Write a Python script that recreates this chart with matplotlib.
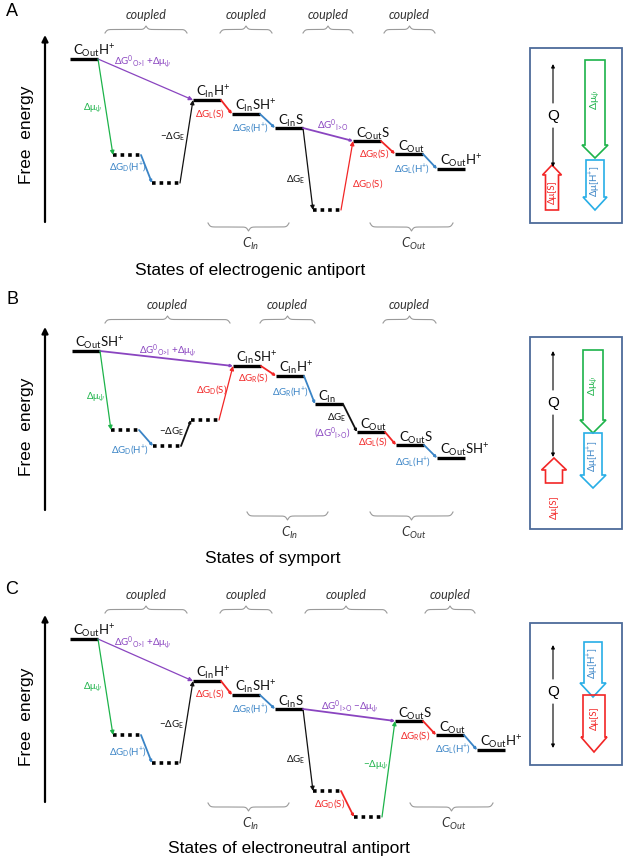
"""
Free-energy state diagrams for electrogenic antiport, symport and electroneutral antiport.
Output: out.png (624x860)
"""
import numpy as np
import matplotlib
matplotlib.use("Agg")
import matplotlib.pyplot as plt
from matplotlib.patches import Polygon, Rectangle

plt.rcParams["font.family"] = ["Lato", "DejaVu Sans"]
plt.rcParams["mathtext.fontset"] = "custom"
plt.rcParams["mathtext.rm"] = "Lato"
plt.rcParams["mathtext.it"] = "Lato:italic"
plt.rcParams["mathtext.bf"] = "Lato:bold"

PURPLE = "#8a45c0"
GREEN = "#1db34a"
BLUE = "#3a84c6"
RED = "#f22626"
CYAN = "#28aee6"
GREY = "#9a9a9a"
BOXC = "#4d6b9a"
K = "#111111"

# ── Labels ────────────────────────────────────────────────────────────────────
def cname(sub, tail=""):
    return r"C$_{\mathrm{%s}}$%s" % (sub, tail)

HP = r"H$^{+}$"
C_OUT_H = cname("Out", HP)
C_OUT_SH = cname("Out", "S" + HP)
C_OUT_S = cname("Out", "S")
C_OUT = cname("Out")
C_IN_H = cname("In", HP)
C_IN_SH = cname("In", "S" + HP)
C_IN_S = cname("In", "S")
C_IN = cname("In")

OI = r"\mathrm{O}\!>\!\mathrm{I}"
IO = r"\mathrm{I}\!>\!\mathrm{O}"
dGL_S = r"ΔG$_{\mathrm{L}}$(S)"
dGR_S = r"ΔG$_{\mathrm{R}}$(S)"
dGD_S = r"ΔG$_{\mathrm{D}}$(S)"
dGL_H = r"ΔG$_{\mathrm{L}}$(H$^{+}$)"
dGR_H = r"ΔG$_{\mathrm{R}}$(H$^{+}$)"
dGD_H = r"ΔG$_{\mathrm{D}}$(H$^{+}$)"
dGE = r"ΔG$_{\mathrm{E}}$"
m_dGE = r"−ΔG$_{\mathrm{E}}$"
dmu = r"Δμ$_{\psi}$"
m_dmu = r"−Δμ$_{\psi}$"
dG0_OI = r"ΔG$^{0}$$_{%s}$ +Δμ$_{\psi}$" % OI
dG0_IO = r"ΔG$^{0}$$_{%s}$" % IO
dG0_IO_p = r"(ΔG$^{0}$$_{%s}$)" % IO
dG0_IO_m = r"ΔG$^{0}$$_{%s}$ −Δμ$_{\psi}$" % IO

# ── Panel A: electrogenic antiport ────────────────────────────────────────────
A_names = [C_OUT_H, "", "", C_IN_H, C_IN_SH, C_IN_S, "", C_OUT_S, C_OUT, C_OUT_H]
A_level = [59, 155, 183, 100, 114, 128, 210, 141, 154, 169]
A_pos = [70, 113, 152, 193, 232, 275, 313, 353, 395, 437]
A_dotted = [0, 1, 1, 0, 0, 0, 1, 0, 0, 0]
A_steps = [(0, 3, PURPLE), (0, 1, GREEN), (1, 2, BLUE), (2, 3, K), (3, 4, RED),
           (4, 5, BLUE), (5, 6, K), (6, 7, RED), (5, 7, PURPLE), (7, 8, RED), (8, 9, BLUE)]
A_step_text = [dG0_OI, dmu, dGD_H, m_dGE, dGL_S, dGR_H, dGE, dGD_S, dG0_IO, dGR_S, dGL_H]
A_step_color = [PURPLE, GREEN, BLUE, K, RED, BLUE, K, RED, PURPLE, RED, BLUE]
A_step_xy = [(143, 62), (92, 108), (128, 167), (173, 137), (210, 113), (250, 128),
             (296, 180), (368, 184), (333, 126), (374, 154), (412, 169)]

# ── Panel B: symport ──────────────────────────────────────────────────────────
B_names = [C_OUT_SH, "", "", "", C_IN_SH, C_IN_H, C_IN, C_OUT, C_OUT_S, C_OUT_SH]
B_level = [351, 430, 446, 420, 366, 376, 404, 432, 445, 458]
B_pos = [72, 111, 153, 191, 233, 276, 315, 357, 396, 437]
B_dotted = [0, 1, 1, 1, 0, 0, 0, 0, 0, 0]
B_steps = [(0, 4, PURPLE), (0, 1, GREEN), (1, 2, BLUE), (2, 3, K), (3, 4, RED),
           (4, 5, RED), (5, 6, BLUE), (6, 7, K), (7, 8, RED), (8, 9, BLUE)]
B_step_text = [dG0_OI, dmu, dGD_H, m_dGE, dGD_S, dGR_S, dGR_H, dGE, dG0_IO_p, dGL_S, dGL_H]
B_step_color = [PURPLE, GREEN, BLUE, K, RED, RED, BLUE, K, PURPLE, RED, BLUE]
B_step_xy = [(168, 351), (95, 397), (130, 450), (172, 432), (212, 389), (253, 377),
             (290, 392), (337, 418), (332, 433), (373, 442), (413, 462)]

# ── Panel C: electroneutral antiport ──────────────────────────────────────────
C_names = [C_OUT_H, "", "", C_IN_H, C_IN_SH, C_IN_S, "", "", C_OUT_S, C_OUT, C_OUT_H]
C_level = [639, 735, 763, 681, 695, 709, 791, 817, 721, 735, 750]
C_pos = [70, 113, 152, 193, 232, 275, 313, 354, 395, 436, 477]
C_dotted = [0, 1, 1, 0, 0, 0, 1, 1, 0, 0, 0]
C_steps = [(0, 3, PURPLE), (0, 1, GREEN), (1, 2, BLUE), (2, 3, K), (3, 4, RED),
           (4, 5, BLUE), (5, 6, K), (6, 7, RED), (7, 8, GREEN), (5, 8, PURPLE),
           (8, 9, RED), (9, 10, BLUE)]
C_step_text = [dG0_OI, dmu, dGD_H, m_dGE, dGL_S, dGR_H, dGE, dGD_S, m_dmu, dG0_IO_m, dGR_S, dGL_H]
C_step_color = [PURPLE, GREEN, BLUE, K, RED, BLUE, K, RED, GREEN, PURPLE, RED, BLUE]
C_step_xy = [(143, 643), (92, 687), (128, 752), (172, 725), (210, 693), (250, 709),
             (296, 760), (330, 803), (375, 765), (350, 707), (415, 735), (453, 749)]

# braces: (x0, x1)
A_coupled = [(105, 187), (220, 272), (303, 353), (384, 435)]
B_coupled = [(105, 230), (260, 315), (383, 436)]
C_coupled = [(105, 187), (220, 272), (305, 387), (425, 475)]
A_carrier = [(208, 289, "In"), (370, 453, "Out")]
B_carrier = [(247, 328, "In"), (370, 453, "Out")]
C_carrier = [(208, 289, "In"), (410, 493, "Out")]

titles = ["States of electrogenic antiport", "States of symport",
          "States of electroneutral antiport"]

LW = 28  # level width in px

fig = plt.figure(figsize=(6.24, 8.6), dpi=100)
ax = fig.add_axes([0, 0, 1, 1])
ax.set_xlim(0, 624)
ax.set_ylim(860, 0)
ax.axis("off")


def arrow(p0, p1, color, lw=0.9, ms=6, head=True):
    ax.annotate("", xy=p1, xytext=p0,
                arrowprops=dict(arrowstyle="-|>" if head else "-", color=color, lw=lw,
                                mutation_scale=ms, shrinkA=0, shrinkB=0))


def brace(x0, x1, y, h, up=True):
    n = 301
    xs = np.linspace(x0, x1, n)
    half = xs[: n // 2 + 1]
    beta = 0.9
    v = 1 / (1 + np.exp(-beta * (half - half[0]))) + 1 / (1 + np.exp(-beta * (half - half[-1])))
    v = np.concatenate([v, v[-2::-1]]) - 0.5
    sign = -1 if up else 1
    ax.plot(xs, y + sign * v * h, color=GREY, lw=0.8)


def block_arrow(xc, y0, y1, sw, hw, hl, color):
    d = 1 if y1 > y0 else -1
    yb = y1 - d * hl
    pts = [(xc - sw / 2, y0), (xc + sw / 2, y0), (xc + sw / 2, yb), (xc + hw / 2, yb),
           (xc, y1), (xc - hw / 2, yb), (xc - sw / 2, yb)]
    ax.add_patch(Polygon(pts, closed=True, fill=False, ec=color, lw=1.2, joinstyle="miter"))


def panel(names, level, pos, dotted, steps, s_text, s_color, s_xy):
    for i, j, col in steps:
        p0 = (pos[i] + LW, level[i])
        p1 = (pos[j], level[j])
        long_step = abs(level[j] - level[i]) > 40
        arrow(p0, p1, col, lw=0.9 if long_step else 1.3, ms=6 if long_step else 3)
    for nm, y, x, dot in zip(names, level, pos, dotted):
        if dot:
            ax.plot([x, x + LW], [y, y], color="k", lw=2.6, ls=(0, (1, 1.1)),
                    solid_capstyle="butt", dash_capstyle="butt")
        else:
            ax.plot([x, x + LW], [y, y], color="k", lw=2.4, solid_capstyle="butt")
        if nm:
            ax.text(x + 3, y - 3.5, nm, fontsize=9.5, ha="left", va="baseline", color=K)
    for t, c, (x, y) in zip(s_text, s_color, s_xy):
        ax.text(x, y, t, fontsize=7, ha="center", va="center", color=c)


def braces(coupled, carrier, y_top, y_bot):
    for x0, x1 in coupled:
        brace(x0, x1, y_top, 7, up=True)
        ax.text((x0 + x1) / 2, y_top - 18, "coupled", fontsize=9, style="italic",
                ha="center", va="center", color="#333333")
    for x0, x1, sub in carrier:
        brace(x0, x1, y_bot, 8, up=False)
        ax.text((x0 + x1) / 2 + 2, y_bot + 21, r"$C_{%s}$" % sub, fontsize=9.5,
                ha="center", va="center", color="#333333")


def free_energy_axis(y_bot, y_top, y_text):
    ax.annotate("", xy=(45, y_top), xytext=(45, y_bot),
                arrowprops=dict(arrowstyle="-|>", color="k", lw=1.6, mutation_scale=9,
                                shrinkA=0, shrinkB=0))
    ax.text(27, y_text, "Free  energy", rotation=90, fontsize=12.5, ha="center", va="center",
            family="Liberation Sans")


def q_line(y_top, y_bot, y_q):
    arrow((553, y_q - 13), (553, y_top), "k", lw=0.8, ms=5)
    arrow((553, y_q + 12), (553, y_bot), "k", lw=0.8, ms=5)
    ax.text(553, y_q, "Q", fontsize=11, ha="center", va="center", family="Liberation Sans")


def box(y0, y1):
    ax.add_patch(Rectangle((530, y0), 92, y1 - y0, fill=False, ec=BOXC, lw=1.3))


# ── Draw panels ───────────────────────────────────────────────────────────────
panel(A_names, A_level, A_pos, A_dotted, A_steps, A_step_text, A_step_color, A_step_xy)
panel(B_names, B_level, B_pos, B_dotted, B_steps, B_step_text, B_step_color, B_step_xy)
panel(C_names, C_level, C_pos, C_dotted, C_steps, C_step_text, C_step_color, C_step_xy)

braces(A_coupled, A_carrier, 33, 223)
braces(B_coupled, B_carrier, 323, 512)
braces(C_coupled, C_carrier, 613, 803)

free_energy_axis(222, 35, 135)
free_energy_axis(510, 327, 427)
free_energy_axis(802, 615, 717)

for t, (x, y) in zip(titles, [(250, 270), (273, 558), (289, 848)]):
    ax.text(x, y, t, fontsize=12.5, ha="center", va="center", family="Liberation Sans")

for t, y in zip("ABC", [12, 300, 590]):
    ax.text(12, y, t, fontsize=13, ha="center", va="center", family="Liberation Sans")

# ── Driving-force insets ──────────────────────────────────────────────────────
box(48, 223)
q_line(64, 167, 116)
block_arrow(595, 60, 158, 20, 26, 13, GREEN)
ax.text(595, 100, dmu, rotation=90, fontsize=7.5, color=GREEN, ha="center", va="center")
block_arrow(595, 160, 210, 18, 24, 13, CYAN)
ax.text(595, 181, r"Δμ[H$^{+}$]", rotation=90, fontsize=7, color=BLUE, ha="center", va="center")
block_arrow(552, 210, 165, 13, 19, 10, RED)
ax.text(552, 192, "Δμ[S]", rotation=90, fontsize=7, color=RED, ha="center", va="center")

box(337, 529)
q_line(351, 457, 403)
block_arrow(593, 350, 433, 20, 26, 13, GREEN)
ax.text(593, 386, dmu, rotation=90, fontsize=7.5, color=GREEN, ha="center", va="center")
block_arrow(593, 433, 488, 18, 26, 13, CYAN)
ax.text(593, 456, r"Δμ[H$^{+}$]", rotation=90, fontsize=7, color=BLUE, ha="center", va="center")
block_arrow(554, 483, 458, 17, 25, 12, RED)
ax.text(554, 507, "Δμ[S]", rotation=90, fontsize=7, color=RED, ha="center", va="center")

box(623, 765)
q_line(645, 748, 692)
block_arrow(593, 642, 697, 18, 26, 14, CYAN)
ax.text(593, 663, r"Δμ[H$^{+}$]", rotation=90, fontsize=7, color=BLUE, ha="center", va="center")
block_arrow(594, 695, 752, 22, 26, 15, RED)
ax.text(594, 718, "Δμ[S]", rotation=90, fontsize=7, color=RED, ha="center", va="center")

fig.savefig("out.png", dpi=100)
plt.close(fig)
